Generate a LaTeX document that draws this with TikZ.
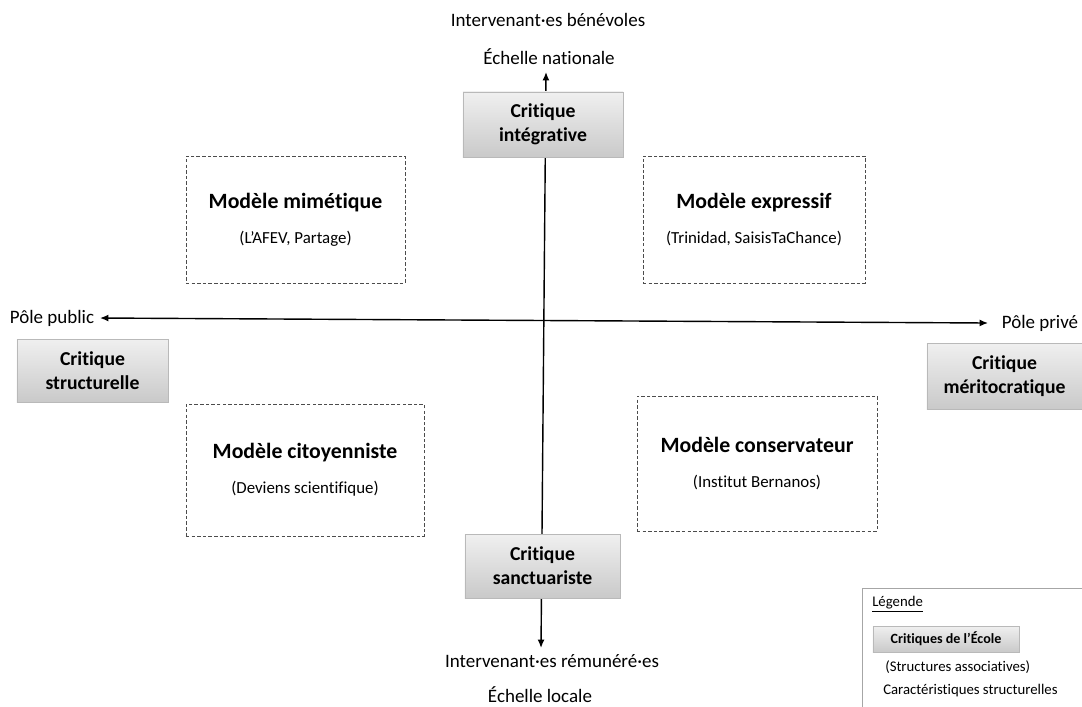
\documentclass[tikz,border=0pt]{standalone}
\usepackage{fontspec}
\setmainfont{Carlito}[Ligatures={NoCommon}]
\usetikzlibrary{arrows.meta}

\tikzset{
  critique/.style={draw=gray!55, top color=gray!12, bottom color=gray!42,
    font=\fontsize{14}{17}\selectfont\bfseries, align=center, inner sep=0pt},
  modele/.style={draw=black!70, dash pattern=on 2.5pt off 1.5pt, line width=0.5pt,
    align=center, inner sep=0pt},
  axe/.style={line width=1pt, {Latex[length=6pt,width=5pt]}-{Latex[length=6pt,width=5pt]}},
  etiquette/.style={font=\fontsize{13.5}{16}\selectfont, inner sep=0pt},
  petit/.style={font=\fontsize{10.5}{12}\selectfont, inner sep=0pt, anchor=west},
}
\newcommand{\titremodele}[2]{{\fontsize{15.5}{18}\selectfont\bfseries #1}\\[13pt]{\fontsize{12}{14}\selectfont #2}}

\begin{document}
\begin{tikzpicture}[x=0.025cm,y=-0.025cm]
\clip (0,0) rectangle (1082,706);

% axes
\coordinate (haut) at (546,72);
\coordinate (bas) at (541,648);
\coordinate (gauche) at (100,318);
\coordinate (droite) at (988,323);
\draw[axe] (bas) -- (haut);
\draw[axe] (gauche) -- (droite);

% extremites des axes
\node[etiquette] (benevoles) at (548,20) {Intervenant·es bénévoles};
\node[etiquette] (nationale) at (549,57) {Échelle nationale};
\node[etiquette] (remuneres) at (552,661) {Intervenant·es rémunéré·es};
\node[etiquette] (locale) at (540,695) {Échelle locale};
\node[etiquette] (public) at (52,318) {Pôle public};
\node[etiquette] (prive) at (1040,323) {Pôle privé};

% critiques
\node[critique, minimum width=4cm, minimum height=1.625cm] (integrative) at (543,124.5) {Critique\\intégrative};
\node[critique, minimum width=3.775cm, minimum height=1.575cm] (structurelle) at (92.5,370.5) {Critique\\structurelle};
\node[critique, minimum width=3.875cm, minimum height=1.65cm] (meritocratique) at (1004.5,376) {Critique\\méritocratique};
\node[critique, minimum width=3.875cm, minimum height=1.6cm] (sanctuariste) at (542.5,566) {Critique\\sanctuariste};

% modeles
\node[modele, minimum width=5.475cm, minimum height=3.175cm] (mimetique) at (295.5,219.5) {\titremodele{Modèle mimétique}{(L’AFEV, Partage)}};
\node[modele, minimum width=5.55cm, minimum height=3.175cm] (expressif) at (754,219.5) {\titremodele{Modèle expressif}{(Trinidad, SaisisTaChance)}};
\node[modele, minimum width=5.95cm, minimum height=3.3cm] (citoyenniste) at (305,470) {\titremodele{Modèle citoyenniste}{(Deviens scientifique)}};
\node[modele, minimum width=6cm, minimum height=3.375cm] (conservateur) at (757,463.5) {\titremodele{Modèle conservateur}{(Institut Bernanos)}};

% legende
\node[draw=gray!70, line width=0.6pt, anchor=north west, minimum width=6cm, minimum height=3.5cm] (legende) at (862,588) {};
\node[petit] (titrelegende) at (872,604) {\underline{Légende}};
\node[critique, font=\fontsize{10}{12}\selectfont\bfseries, minimum width=3.65cm, minimum height=0.65cm] (ecole) at (946,639) {Critiques de l’École};
\node[petit] (structures) at (885,667) {(Structures associatives)};
\node[petit] (caracteristiques) at (883,691) {Caractéristiques structurelles};
\end{tikzpicture}
\end{document}
